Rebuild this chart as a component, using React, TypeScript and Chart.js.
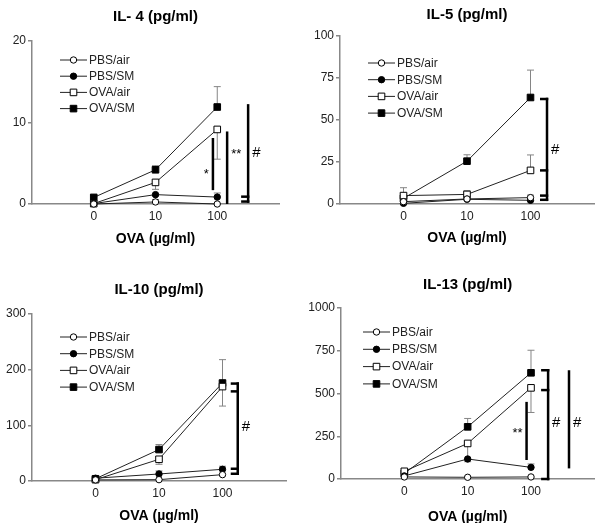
import React, { useEffect, useRef } from 'react';
import { Chart, registerables } from 'chart.js';

Chart.register(...registerables);

const FONT = "'Liberation Sans', Arial, Helvetica, sans-serif";

// ---- shared categories ----
const doseLabels = ['0', '10', '100'];
const seriesNames = ['PBS/air', 'PBS/SM', 'OVA/air', 'OVA/SM'];
const seriesPoint = ['circle', 'circle', 'rect', 'rect'];
const seriesFill = ['#ffffff', '#000000', '#ffffff', '#000000'];

// ---- IL-4 ----
const il4PbsAir = [0, 0.25, 0];
const il4PbsSm = [0.05, 1.15, 0.85];
const il4OvaAir = [0.05, 2.65, 9.15];
const il4OvaSm = [0.8, 4.2, 11.9];
// signed error bars: + drawn upward, - drawn downward
const il4Err = [[0, 0, 0], [0, -0.6, 0.5], [0, -0.85, -3.65], [0.4, 0.5, 2.5]];
const il4YTicks = [0, 10, 20];

// ---- IL-5 ----
const il5PbsAir = [1.4, 3.0, 3.8];
const il5PbsSm = [0.4, 2.8, 2.2];
const il5OvaAir = [5.0, 5.7, 20.0];
const il5OvaSm = [3.4, 25.5, 63.4];
const il5Err = [[0, 0, 1.5], [0, 0, 0], [4.7, 2.2, 9.2], [0, 3.8, 16.3]];
const il5YTicks = [0, 25, 50, 75, 100];

// ---- IL-10 ----
const il10PbsAir = [2, 2.4, 11.4];
const il10PbsSm = [5, 12.6, 21];
const il10OvaAir = [2.4, 39, 169.6];
const il10OvaSm = [4, 56.5, 176];
const il10Err = [[0, 0, 0], [0, 5.5, 5.5], [0, -9, -35], [0, 9, 42]];
const il10YTicks = [0, 100, 200, 300];

// ---- IL-13 ----
const il13PbsAir = [12, 10, 12];
const il13PbsSm = [18, 117, 68];
const il13OvaAir = [45, 208, 533];
const il13OvaSm = [33, 305, 621];
const il13Err = [[0, 0, 0], [0, 0, 20], [0, -107, -144], [0, 49, 132]];
const il13YTicks = [0, 250, 500, 750, 1000];

// ---- significance brackets (x in dose-index units, y in data units) ----
const il4Brackets = [
  { x: 1.93, y1: 1.7, y2: 8.1, ticks: [] as number[], label: '*', side: 'left', labelY: 4.0 },
  { x: 2.16, y1: 0, y2: 8.9, ticks: [] as number[], label: '**', side: 'right', labelY: 6.4 },
  { x: 2.5, y1: 0.3, y2: 12.1, ticks: [0.3, 0.9], label: '#', side: 'right', labelY: 6.3 },
];
const il5Brackets = [
  { x: 2.26, y1: 2.5, y2: 62.5, ticks: [62.5, 20, 5, 2.5], label: '#', side: 'right', labelY: 32 },
];
const il10Brackets = [
  { x: 2.24, y1: 13, y2: 175, ticks: [175, 161, 22, 13], label: '#', side: 'right', labelY: 97 },
];
const il13Brackets = [
  { x: 1.93, y1: 111, y2: 451, ticks: [] as number[], label: '**', side: 'left', labelY: 286 },
  { x: 2.27, y1: 0, y2: 636, ticks: [636, 520, 0], label: '#', side: 'right', labelY: 327 },
  { x: 2.6, y1: 62, y2: 636, ticks: [] as number[], label: '#', side: 'right', labelY: 327 },
];

const panels = [
  {
    title: 'IL- 4 (pg/ml)', values: [il4PbsAir, il4PbsSm, il4OvaAir, il4OvaSm], errors: il4Err,
    yTicks: il4YTicks, brackets: il4Brackets,
    pos: { left: 0, top: 0, w: 300, h: 260 },
    area: { left: 32, right: 279, top: 41, bottom: 204 },
    legend: { x: 60, y: 60, gap: 16.2 }, titleY: 21, xTitleY: 243,
  },
  {
    title: 'IL-5 (pg/ml)', values: [il5PbsAir, il5PbsSm, il5OvaAir, il5OvaSm], errors: il5Err,
    yTicks: il5YTicks, brackets: il5Brackets,
    pos: { left: 300, top: 0, w: 300, h: 260 },
    area: { left: 40, right: 294, top: 36, bottom: 204 },
    legend: { x: 68, y: 63, gap: 16.7 }, titleY: 18.5, xTitleY: 242,
  },
  {
    title: 'IL-10 (pg/ml)', values: [il10PbsAir, il10PbsSm, il10OvaAir, il10OvaSm], errors: il10Err,
    yTicks: il10YTicks, brackets: il10Brackets,
    pos: { left: 0, top: 260, w: 300, h: 263 },
    area: { left: 32, right: 286, top: 54, bottom: 221 },
    legend: { x: 60, y: 77, gap: 16.7 }, titleY: 33.5, xTitleY: 260,
  },
  {
    title: 'IL-13 (pg/ml)', values: [il13PbsAir, il13PbsSm, il13OvaAir, il13OvaSm], errors: il13Err,
    yTicks: il13YTicks, brackets: il13Brackets,
    pos: { left: 300, top: 260, w: 300, h: 263 },
    area: { left: 41, right: 298, top: 48, bottom: 219 },
    legend: { x: 63, y: 72, gap: 17.3 }, titleY: 28.5, xTitleY: 261,
  },
];

const CIRCLE_R = 3.2;
const SQUARE_HALF = 3.3;

function drawMarker(ctx: CanvasRenderingContext2D, k: number, x: number, y: number) {
  ctx.save();
  ctx.fillStyle = seriesFill[k];
  ctx.strokeStyle = '#000';
  ctx.lineWidth = 1;
  ctx.beginPath();
  if (seriesPoint[k] === 'circle') {
    ctx.arc(x, y, CIRCLE_R, 0, Math.PI * 2);
  } else {
    ctx.rect(x - SQUARE_HALF, y - SQUARE_HALF, SQUARE_HALF * 2, SQUARE_HALF * 2);
  }
  ctx.fill();
  ctx.stroke();
  ctx.restore();
}

function Panel({ cfg }: { cfg: any }) {
  const ref = useRef<HTMLCanvasElement>(null);
  useEffect(() => {
    const canvas = ref.current!;
    const { w, h } = cfg.pos;
    const yMax = cfg.yTicks[cfg.yTicks.length - 1];
    const yStep = cfg.yTicks[1] - cfg.yTicks[0];

    const overlay = {
      id: 'overlay',
      beforeDatasetsDraw(chart: any) {
        const ctx = chart.ctx as CanvasRenderingContext2D;
        const xs = chart.scales.x;
        const ys = chart.scales.y;
        ctx.save();
        ctx.strokeStyle = '#858585';
        ctx.lineWidth = 1;
        cfg.values.forEach((vals: number[], k: number) => {
          vals.forEach((v: number, j: number) => {
            const e = cfg.errors[k][j];
            if (!e) return;
            const px = xs.getPixelForValue(j);
            const p0 = ys.getPixelForValue(v);
            const p1 = ys.getPixelForValue(v + e);
            ctx.beginPath();
            ctx.moveTo(px, p0);
            ctx.lineTo(px, p1);
            ctx.moveTo(px - 3.5, p1);
            ctx.lineTo(px + 3.5, p1);
            ctx.stroke();
          });
        });
        ctx.restore();
      },
      afterDraw(chart: any) {
        const ctx = chart.ctx as CanvasRenderingContext2D;
        const xs = chart.scales.x;
        const ys = chart.scales.y;
        const ca = chart.chartArea;
        ctx.save();
        // titles
        ctx.fillStyle = '#000';
        ctx.textAlign = 'center';
        ctx.textBaseline = 'alphabetic';
        ctx.font = `bold 15px ${FONT}`;
        ctx.fillText(cfg.title, (ca.left + ca.right) / 2, cfg.titleY);
        ctx.font = `bold 14px ${FONT}`;
        ctx.fillText('OVA (µg/ml)', (ca.left + ca.right) / 2, cfg.xTitleY);

        // legend
        const lg = cfg.legend;
        seriesNames.forEach((name, k) => {
          const y = lg.y + k * lg.gap;
          ctx.strokeStyle = '#222';
          ctx.lineWidth = 1;
          ctx.beginPath();
          ctx.moveTo(lg.x, y);
          ctx.lineTo(lg.x + 27, y);
          ctx.stroke();
          drawMarker(ctx, k, lg.x + 13.5, y);
          ctx.fillStyle = '#222';
          ctx.textAlign = 'left';
          ctx.textBaseline = 'middle';
          ctx.font = `12px ${FONT}`;
          ctx.fillText(name, lg.x + 29, y + 0.5);
        });

        // significance brackets
        cfg.brackets.forEach((b: any) => {
          const bx = xs.getPixelForValue(b.x);
          const ya = ys.getPixelForValue(b.y1);
          const yb = ys.getPixelForValue(b.y2);
          ctx.strokeStyle = '#000';
          ctx.lineWidth = 2.5;
          ctx.lineCap = 'butt';
          ctx.beginPath();
          ctx.moveTo(bx, ya + (b.ticks.length ? 1.25 : 0));
          ctx.lineTo(bx, yb - (b.ticks.length ? 1.25 : 0));
          ctx.stroke();
          b.ticks.forEach((t: number) => {
            const ty = ys.getPixelForValue(t);
            ctx.beginPath();
            ctx.moveTo(bx + 1.25, ty);
            ctx.lineTo(bx - 7, ty);
            ctx.stroke();
          });
          const ly = ys.getPixelForValue(b.labelY);
          ctx.fillStyle = '#000';
          ctx.textBaseline = 'middle';
          ctx.font = b.label === '#' ? `15px ${FONT}` : `13px ${FONT}`;
          const dy = b.label === '#' ? 0 : 3;
          if (b.side === 'right') {
            ctx.textAlign = 'left';
            ctx.fillText(b.label, bx + 4, ly + dy);
          } else {
            ctx.textAlign = 'right';
            ctx.fillText(b.label, bx - 4, ly + dy);
          }
        });
        ctx.restore();
      },
    };

    const chart = new Chart(canvas, {
      type: 'line',
      data: {
        datasets: cfg.values.map((vals: number[], k: number) => ({
          label: seriesNames[k],
          data: vals.map((v: number, j: number) => ({ x: j, y: v })),
          borderColor: '#222',
          borderWidth: 1,
          pointStyle: seriesPoint[k],
          pointRadius: seriesPoint[k] === 'circle' ? CIRCLE_R : SQUARE_HALF / Math.SQRT1_2,
          pointBackgroundColor: seriesFill[k],
          pointBorderColor: '#000',
          pointBorderWidth: 1,
          tension: 0,
          fill: false,
          clip: false,
        })),
      },
      options: {
        responsive: false,
        animation: false,
        events: [],
        layout: { padding: { left: 0, top: cfg.area.top, right: w - cfg.area.right, bottom: 0 } },
        plugins: { legend: { display: false }, tooltip: { enabled: false }, title: { display: false } },
        scales: {
          x: {
            type: 'linear',
            min: -1,
            max: 3,
            afterBuildTicks: (s: any) => {
              s.ticks = doseLabels.map((_, i) => ({ value: i }));
            },
            afterFit: (s: any) => {
              s.height = h - cfg.area.bottom;
            },
            ticks: {
              callback: (v: any) => doseLabels[v] ?? '',
              font: { family: FONT, size: 12 },
              color: '#222',
              padding: 5,
              maxRotation: 0,
              autoSkip: false,
            },
            grid: { display: true, drawOnChartArea: false, drawTicks: false },
            border: { color: '#888', width: 1.5 },
          },
          y: {
            type: 'linear',
            min: 0,
            max: yMax,
            afterBuildTicks: (s: any) => {
              s.ticks = cfg.yTicks.map((v: number) => ({ value: v }));
            },
            afterFit: (s: any) => {
              s.width = cfg.area.left;
            },
            ticks: {
              stepSize: yStep,
              callback: (v: any) => String(v),
              font: { family: FONT, size: 12 },
              color: '#222',
              padding: 2,
            },
            grid: { display: true, drawOnChartArea: false, drawTicks: true, tickLength: 4, color: '#888', lineWidth: 1.5 },
            border: { color: '#888', width: 1.5 },
          },
        },
      } as any,
      plugins: [overlay],
    });
    return () => chart.destroy();
  }, [cfg]);

  return (
    <canvas
      ref={ref}
      width={cfg.pos.w}
      height={cfg.pos.h}
      style={{ position: 'absolute', left: cfg.pos.left, top: cfg.pos.top, width: cfg.pos.w, height: cfg.pos.h, display: 'block' }}
    />
  );
}

export default function App() {
  return (
    <div style={{ position: 'absolute', left: 0, top: 0, width: 600, height: 523, background: '#fff', overflow: 'hidden' }}>
      {panels.map((p, i) => (
        <Panel key={i} cfg={p} />
      ))}
    </div>
  );
}
